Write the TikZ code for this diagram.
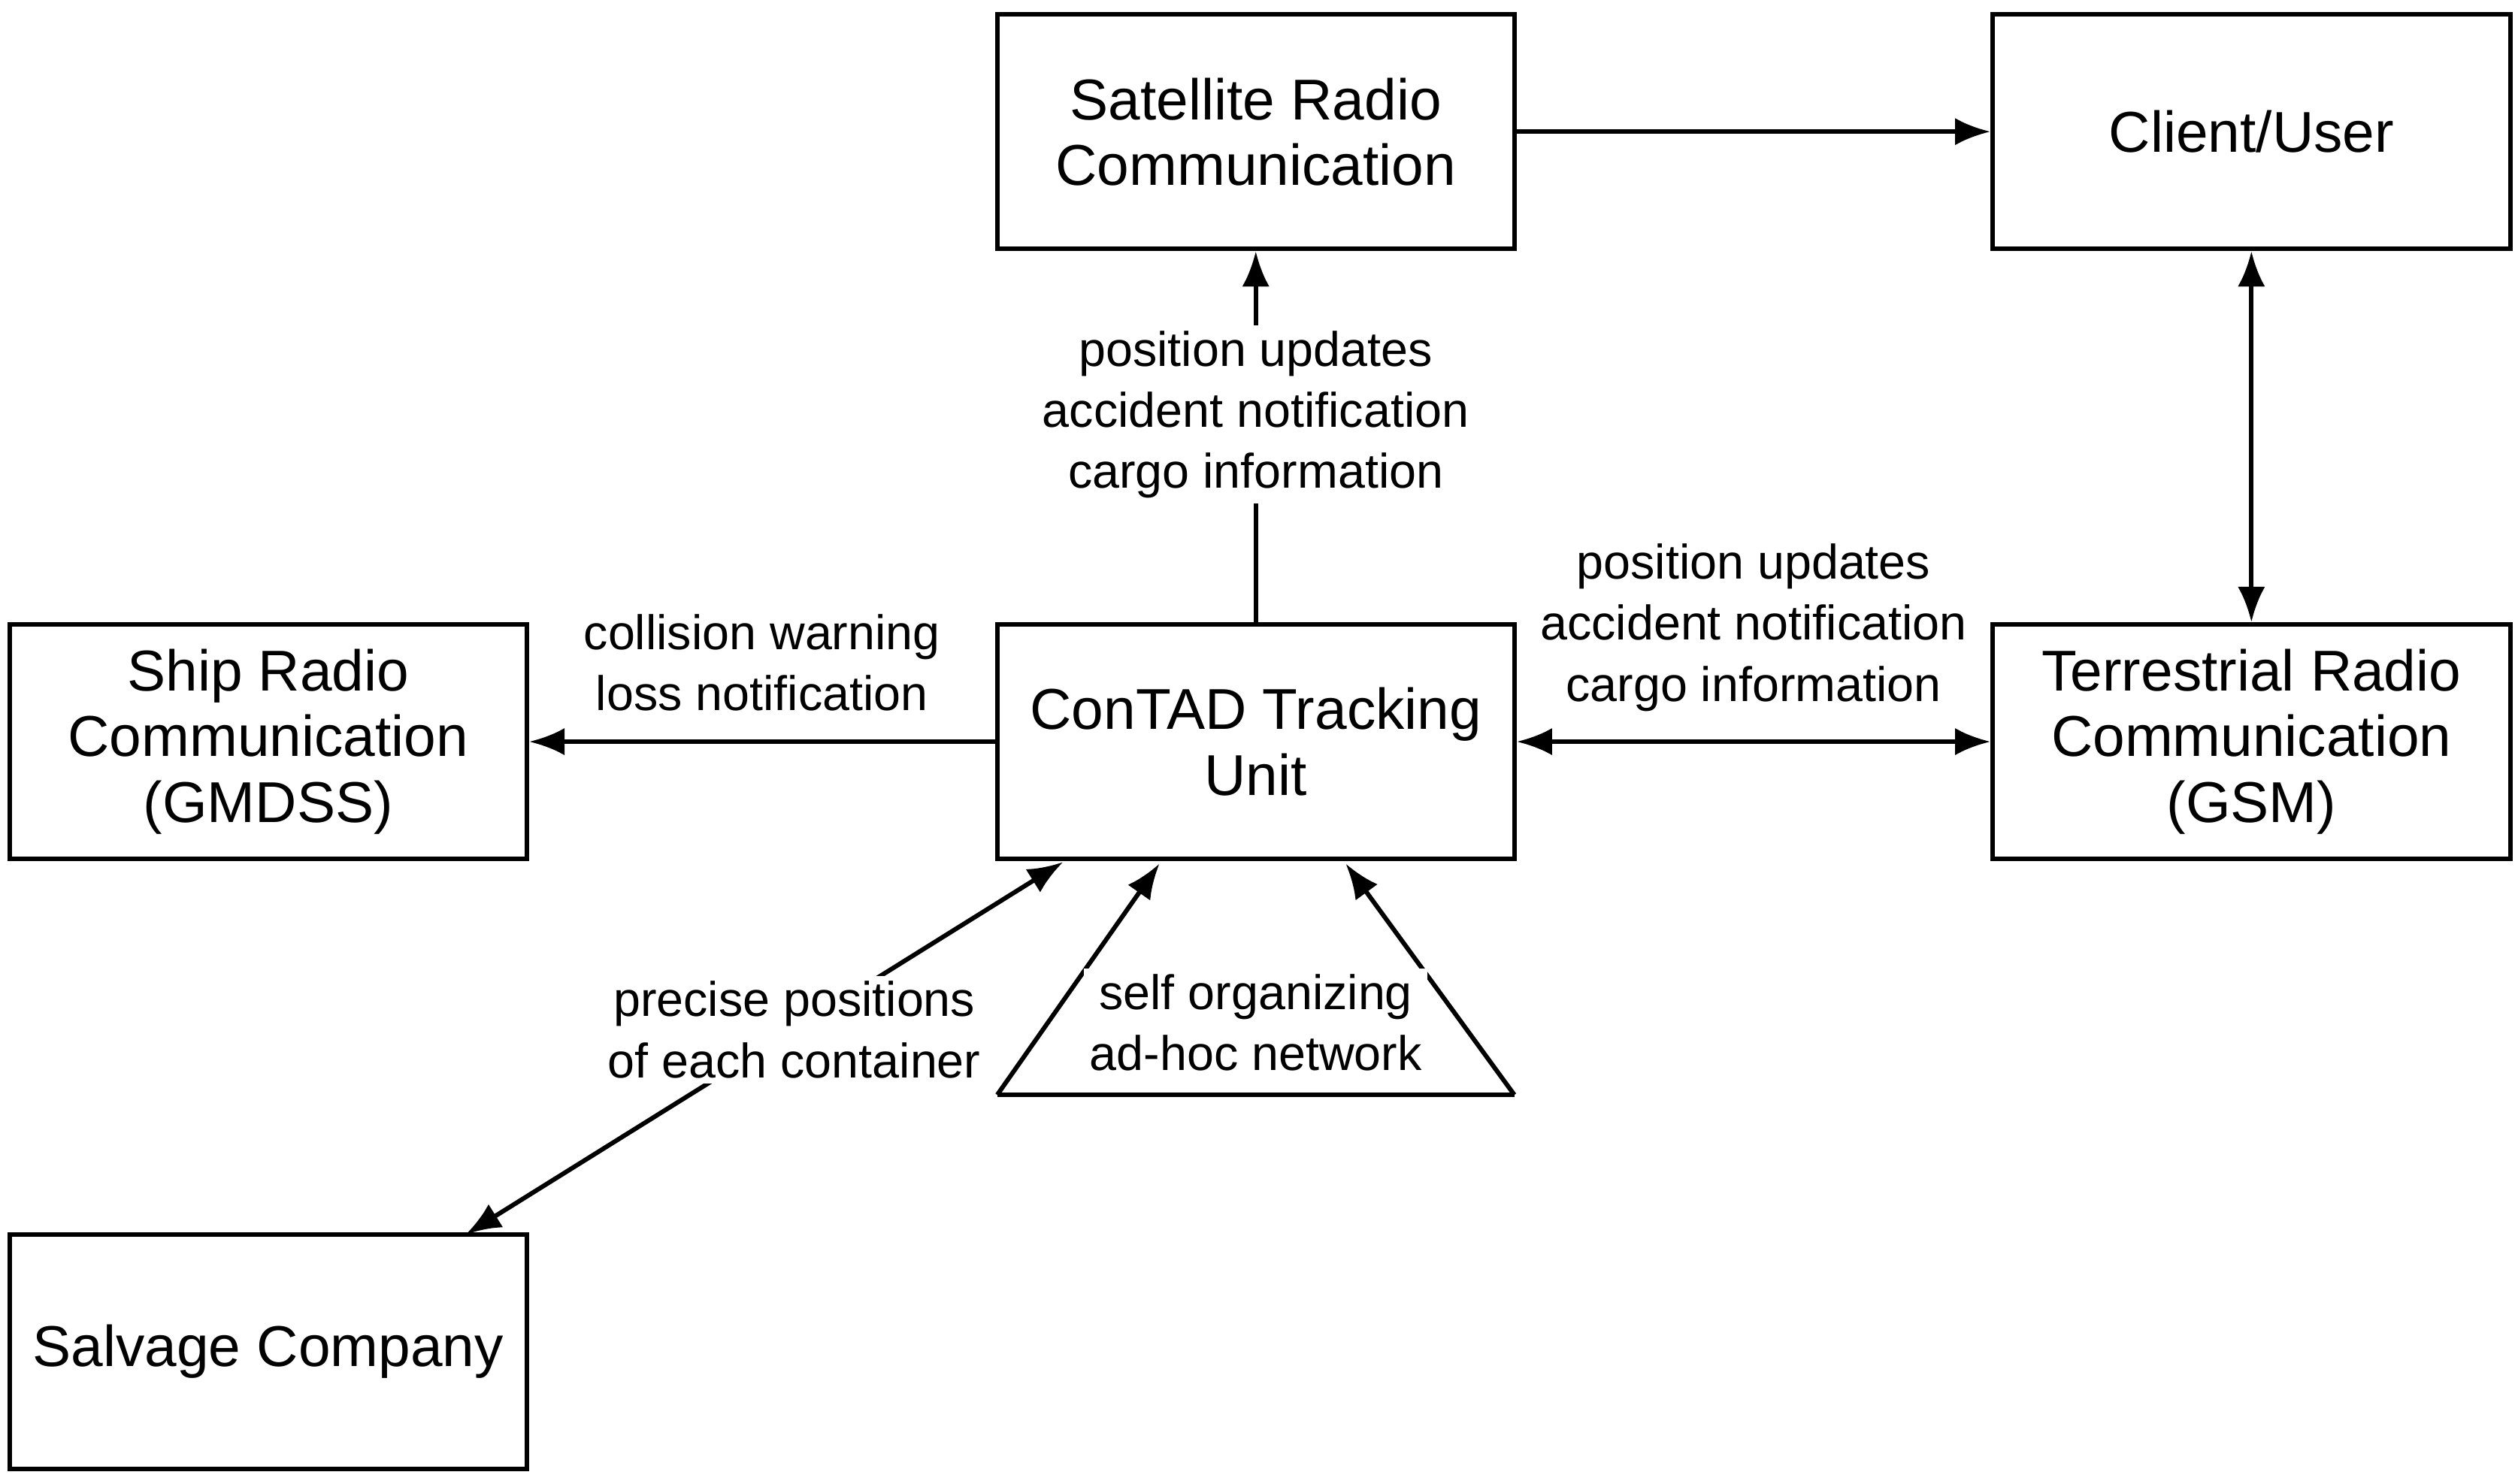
\documentclass[tikz,border=0pt]{standalone}
\usepackage{fontspec}
\setmainfont{Liberation Sans}
\usetikzlibrary{arrows.meta}
\tikzset{
    box/.style={draw, line width=0.8pt, minimum width=3.22cm, minimum height=1.46cm, align=center, font=\fontsize{10.2}{11.6}\selectfont},
    lbl/.style={fill=white, inner sep=1pt, align=center, font=\fontsize{8.6}{10.8}\selectfont}
}
\begin{document}
\begin{tikzpicture}[>={Latex[length=2.2mm,width=1.7mm]}, x=0.01cm, y=-0.01cm, line width=0.8pt]
\useasboundingbox (0,0) rectangle (1568,924);
\node[box] (sat) at (782,82) {Satellite Radio\\Communication};
\node[box] (client) at (1402,82) {Client/User};
\node[box] (ship) at (167,462) {Ship Radio\\Communication\\(GMDSS)};
\node[box] (unit) at (782,462) {ConTAD Tracking\\Unit};
\node[box] (terr) at (1402,462) {Terrestrial Radio\\Communication\\(GSM)};
\node[box] (salv) at (167,842) {Salvage Company};
% links
\draw[->] (sat) -- (client);
\draw[<->] (client) -- (terr);
\draw[->] (unit) -- (sat) node[lbl, pos=0.56] {position updates\\accident notification\\cargo information};
\draw[->] (unit) -- (ship) node[lbl, midway, above=4pt, fill=none] {collision warning\\loss notification};
\draw[<->] (unit) -- (terr) node[lbl, midway, above=4pt, fill=none] {position updates\\accident notification\\cargo information};
\coordinate (salvtop) at (290,769);
\coordinate (unitbl) at (662,537);
\draw[<->] (salvtop) -- (unitbl) node[lbl, pos=0.55] {precise positions\\of each container};
% ad-hoc network
\coordinate (netl) at (621,682);
\coordinate (netr) at (943,682);
\coordinate (tipl) at (722,538);
\coordinate (tipr) at (838,538);
\draw (netl) -- (netr);
\draw[->] (netl) -- (tipl);
\draw[->] (netr) -- (tipr);
\node[lbl] (net) at (782,637) {self organizing\\ad-hoc network};
\end{tikzpicture}
\end{document}
